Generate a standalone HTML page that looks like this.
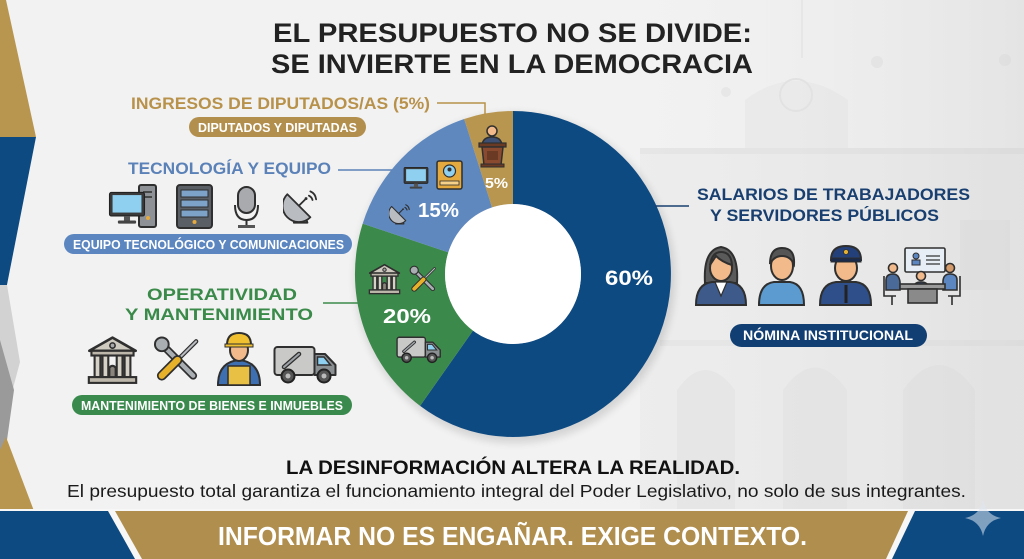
<!DOCTYPE html>
<html><head><meta charset="utf-8"><style>
html,body{margin:0;padding:0;background:#f2f2f2;}
svg{display:block;}
text{font-family:"Liberation Sans",Arial,sans-serif;}
</style></head><body>
<svg width="1024" height="559" viewBox="0 0 1024 559" xmlns="http://www.w3.org/2000/svg">
<defs>
<linearGradient id="bgR" x1="0" y1="0" x2="1" y2="0">
<stop offset="0" stop-color="#f3f3f3" stop-opacity="0"/>
<stop offset="1" stop-color="#d9d9d9" stop-opacity="0.55"/>
</linearGradient>
<filter id="sh" x="-20%" y="-20%" width="140%" height="140%"><feGaussianBlur stdDeviation="4"/></filter>
<symbol id="sat" viewBox="0 0 100 100">
<polygon points="40,66 58,66 68,95 30,95" fill="#7d8186" stroke="#2f2f2f" stroke-width="5" stroke-linejoin="round"/>
<path d="M12,16 A44,44 0 0 0 76,80 Z" fill="#b9bdc2" stroke="#2f2f2f" stroke-width="5" stroke-linejoin="round"/>
<line x1="44" y1="48" x2="64" y2="28" stroke="#2f2f2f" stroke-width="5"/>
<circle cx="64" cy="28" r="4" fill="#2f2f2f"/>
<path d="M72,20 Q80,24 82,32 M76,8 Q90,14 92,30" fill="none" stroke="#2f2f2f" stroke-width="5" stroke-linecap="round"/>
</symbol>
<symbol id="bld" viewBox="0 0 100 95">
<polygon points="6,30 50,5 94,30" fill="#cfcabf" stroke="#2f2f2f" stroke-width="5" stroke-linejoin="round"/>
<circle cx="50" cy="20" r="5" fill="#aaa" stroke="#2f2f2f" stroke-width="3"/>
<rect x="10" y="30" width="80" height="9" fill="#bdb7ab" stroke="#2f2f2f" stroke-width="4"/>
<rect x="16" y="39" width="11" height="41" fill="#d6d1c6" stroke="#2f2f2f" stroke-width="4"/>
<rect x="31" y="39" width="11" height="41" fill="#d6d1c6" stroke="#2f2f2f" stroke-width="4"/>
<rect x="58" y="39" width="11" height="41" fill="#d6d1c6" stroke="#2f2f2f" stroke-width="4"/>
<rect x="73" y="39" width="11" height="41" fill="#d6d1c6" stroke="#2f2f2f" stroke-width="4"/>
<path d="M44,80 V62 Q50,55 56,62 V80" fill="#8a857c" stroke="#2f2f2f" stroke-width="4"/>
<rect x="5" y="80" width="90" height="11" fill="#bdb7ab" stroke="#2f2f2f" stroke-width="4"/>
</symbol>
<symbol id="tools" viewBox="0 0 100 100">
<line x1="22" y1="22" x2="82" y2="82" stroke="#2f2f2f" stroke-width="16" stroke-linecap="round"/>
<line x1="22" y1="22" x2="82" y2="82" stroke="#a9aeb3" stroke-width="9" stroke-linecap="round"/>
<circle cx="18" cy="18" r="14" fill="#a9aeb3" stroke="#2f2f2f" stroke-width="4"/>
<line x1="88" y1="12" x2="50" y2="50" stroke="#2f2f2f" stroke-width="9" stroke-linecap="round"/>
<line x1="88" y1="12" x2="50" y2="50" stroke="#b8bcc0" stroke-width="4" stroke-linecap="round"/>
<line x1="50" y1="50" x2="18" y2="82" stroke="#2f2f2f" stroke-width="20" stroke-linecap="round"/>
<line x1="50" y1="50" x2="18" y2="82" stroke="#e8b12a" stroke-width="13" stroke-linecap="round"/>
</symbol>
<symbol id="van" viewBox="0 0 130 80">
<rect x="3" y="4" width="80" height="56" rx="6" fill="#c9c9c7" stroke="#2f2f2f" stroke-width="4"/>
<path d="M83,18 H104 L125,40 V60 H83 Z" fill="#8a8f92" stroke="#2f2f2f" stroke-width="4" stroke-linejoin="round"/>
<path d="M89,24 H102 L115,40 H89 Z" fill="#8fd0f0" stroke="#2f2f2f" stroke-width="3"/>
<line x1="22" y1="44" x2="52" y2="18" stroke="#2f2f2f" stroke-width="9" stroke-linecap="round"/>
<line x1="22" y1="44" x2="52" y2="18" stroke="#9ea3a8" stroke-width="4" stroke-linecap="round"/>
<circle cx="30" cy="62" r="13" fill="#555" stroke="#222" stroke-width="4"/>
<circle cx="30" cy="62" r="5" fill="#bbb"/>
<circle cx="102" cy="62" r="13" fill="#555" stroke="#222" stroke-width="4"/>
<circle cx="102" cy="62" r="5" fill="#bbb"/>
</symbol>
<symbol id="mon" viewBox="0 0 100 90">
<rect x="4" y="4" width="92" height="62" rx="5" fill="#3a3a3a" stroke="#222" stroke-width="3"/>
<rect x="12" y="11" width="76" height="46" fill="#8fd0f0"/>
<rect x="42" y="66" width="16" height="12" fill="#555"/>
<rect x="26" y="78" width="48" height="8" rx="3" fill="#444"/>
</symbol>
</defs>

<!-- background -->
<rect width="1024" height="559" fill="#f2f2f2"/>
<rect x="560" y="0" width="464" height="520" fill="url(#bgR)"/>
<!-- faint building -->
<g opacity="0.28" fill="#d0d0d0">
<rect x="640" y="150" width="384" height="362" opacity="0.5"/>
<path d="M745,150 V100 Q795,62 848,100 V150 Z" opacity="0.6"/>
<rect x="640" y="148" width="384" height="6" fill="#c8c8c8"/>
<circle cx="877" cy="62" r="6"/>
<circle cx="1005" cy="60" r="6"/>
<circle cx="726" cy="92" r="5"/>
<line x1="802" y1="0" x2="802" y2="58" stroke="#c8c8c8" stroke-width="1.5"/>
<circle cx="796" cy="95" r="16" fill="none" stroke="#c4c4c4" stroke-width="2"/>
<path d="M677,510 V390 Q705,350 735,390 V510 Z" fill="#cdcdcd"/>
<path d="M783,510 V390 Q815,345 847,390 V510 Z" fill="#cdcdcd"/>
<path d="M903,510 V390 Q939,340 975,390 V510 Z" fill="#cdcdcd"/>
<rect x="660" y="340" width="364" height="6" fill="#cacaca"/>
<rect x="960" y="220" width="50" height="70" fill="#cacaca"/>
</g>

<!-- left edge decorations -->
<polygon points="0,0 6,0 36,137 0,137" fill="#b9964f"/>
<polygon points="0,137 36,137 4,300 0,300" fill="#0e4a82"/>
<polygon points="0,285 7,285 20,362 12,392 0,392" fill="#d2d2d2"/>
<polygon points="0,340 14,390 7,440 0,460" fill="#9a9a9a"/>
<polygon points="0,450 6,437 34,511 0,511" fill="#b9964f"/>

<!-- title -->
<text x="273" y="42" font-size="27" font-weight="bold" fill="#222" textLength="479" lengthAdjust="spacingAndGlyphs">EL PRESUPUESTO NO SE DIVIDE:</text>
<text x="271" y="73" font-size="27" font-weight="bold" fill="#222" textLength="482" lengthAdjust="spacingAndGlyphs">SE INVIERTE EN LA DEMOCRACIA</text>

<!-- donut -->
<ellipse cx="515" cy="278" rx="160" ry="165" fill="#000" opacity="0.12" filter="url(#sh)"/>
<path d="M513,111 A158,163 0 1 1 420.1,405.9 L473,330.6 A68,70 0 1 0 513,204 Z" fill="#0e4a82"/>
<path d="M420.1,405.9 A158,163 0 0 1 362.7,223.6 L448.3,252.4 A68,70 0 0 0 473,330.6 Z" fill="#3c8a4b"/>
<path d="M362.7,223.6 A158,163 0 0 1 464.2,119 L492,207.4 A68,70 0 0 0 448.3,252.4 Z" fill="#5f88bf"/>
<path d="M464.2,119 A158,163 0 0 1 513,111 L513,204 A68,70 0 0 0 492,207.4 Z" fill="#b9964f"/>
<ellipse cx="513" cy="274" rx="68" ry="70" fill="#ffffff"/>

<text x="605" y="285" font-size="21" font-weight="bold" fill="#fff" textLength="48" lengthAdjust="spacingAndGlyphs">60%</text>
<text x="485" y="188" font-size="15" font-weight="bold" fill="#fff" textLength="23" lengthAdjust="spacingAndGlyphs">5%</text>
<text x="418" y="217" font-size="20" font-weight="bold" fill="#fff" textLength="41" lengthAdjust="spacingAndGlyphs">15%</text>
<text x="383" y="323" font-size="20" font-weight="bold" fill="#fff" textLength="48" lengthAdjust="spacingAndGlyphs">20%</text>

<!-- donut icons -->
<g>
<circle cx="492" cy="131" r="5" fill="#f2b98a" stroke="#2f2f2f" stroke-width="1.5"/>
<path d="M482,145 Q483,137 492,137 Q501,137 502,145 Z" fill="#3d4f73" stroke="#2f2f2f" stroke-width="1.5"/>
<rect x="479" y="143" width="27" height="4" fill="#6a3a25" stroke="#2f2f2f" stroke-width="1.2"/>
<polygon points="482,147 503,147 501,165 484,165" fill="#8a4a30" stroke="#2f2f2f" stroke-width="1.5"/>
<rect x="487" y="151" width="11" height="9" fill="#6a3a25"/>
<rect x="481" y="164" width="23" height="3" fill="#6a3a25" stroke="#2f2f2f" stroke-width="1"/>
</g>
<use href="#mon" x="403" y="166" width="26" height="24"/>
<g>
<rect x="437" y="161" width="25" height="28" rx="2" fill="#e4a93f" stroke="#2f2f2f" stroke-width="1.5"/>
<circle cx="449.5" cy="171" r="6" fill="#8fd0f0" stroke="#2f2f2f" stroke-width="1.2"/>
<circle cx="449.5" cy="169.5" r="2" fill="#2f2f2f"/>
<rect x="440" y="181" width="19" height="4" fill="#f5d18a" stroke="#2f2f2f" stroke-width="0.8"/>
</g>
<use href="#sat" x="389" y="201" width="22" height="26"/>
<use href="#bld" x="367" y="263" width="35" height="32"/>
<use href="#tools" x="409" y="264" width="29" height="31"/>
<use href="#van" x="396" y="335" width="46" height="30"/>

<!-- gold category -->
<text x="131" y="109" font-size="17" font-weight="bold" fill="#b8924b" textLength="299" lengthAdjust="spacingAndGlyphs">INGRESOS DE DIPUTADOS/AS (5%)</text>
<path d="M437,103 H485 V115" fill="none" stroke="#b8924b" stroke-width="1.5"/>
<rect x="189" y="117" width="177" height="20" rx="10" fill="#b38f4d"/>
<text x="198" y="132" font-size="12.5" font-weight="bold" fill="#fff" textLength="159" lengthAdjust="spacingAndGlyphs">DIPUTADOS Y DIPUTADAS</text>

<!-- tech category -->
<text x="128" y="174" font-size="17" font-weight="bold" fill="#5b82b8" textLength="203" lengthAdjust="spacingAndGlyphs">TECNOLOGÍA Y EQUIPO</text>
<path d="M338,170 H392" stroke="#5b82b8" stroke-width="1.5"/>
<g>
<rect x="139" y="185" width="17" height="42" rx="2" fill="#8e9296" stroke="#2f2f2f" stroke-width="2"/>
<line x1="143" y1="192" x2="152" y2="192" stroke="#2f2f2f" stroke-width="1.5"/>
<line x1="143" y1="197" x2="152" y2="197" stroke="#2f2f2f" stroke-width="1.5"/>
<circle cx="148" cy="218" r="2" fill="#e4a93f"/>
<use href="#mon" x="108" y="189" width="38" height="38"/>
</g>
<g>
<rect x="177" y="185" width="35" height="43" rx="3" fill="#5a5f66" stroke="#2f2f2f" stroke-width="2"/>
<rect x="181" y="190" width="27" height="7" fill="#7ea3c8" stroke="#2f2f2f" stroke-width="1"/>
<rect x="181" y="200" width="27" height="7" fill="#7ea3c8" stroke="#2f2f2f" stroke-width="1"/>
<rect x="181" y="210" width="27" height="7" fill="#7ea3c8" stroke="#2f2f2f" stroke-width="1"/>
<circle cx="194.5" cy="222" r="2" fill="#e4a93f"/>
</g>
<g>
<rect x="238" y="187" width="17" height="26" rx="8.5" fill="#a8aaae" stroke="#2f2f2f" stroke-width="2"/>
<path d="M235,205 Q235,220 246.5,220 Q258,220 258,205" fill="none" stroke="#2f2f2f" stroke-width="2"/>
<line x1="246.5" y1="220" x2="246.5" y2="226" stroke="#2f2f2f" stroke-width="2"/>
<rect x="238" y="225" width="17" height="3" fill="#555"/>
</g>
<use href="#sat" x="283" y="185" width="36" height="43"/>
<rect x="64" y="234" width="288" height="20" rx="10" fill="#5b86c0"/>
<text x="73" y="249" font-size="12.5" font-weight="bold" fill="#fff" textLength="271" lengthAdjust="spacingAndGlyphs">EQUIPO TECNOLÓGICO Y COMUNICACIONES</text>

<!-- green category -->
<text x="147" y="300" font-size="17" font-weight="bold" fill="#3a8a4a" textLength="150" lengthAdjust="spacingAndGlyphs">OPERATIVIDAD</text>
<text x="125" y="320" font-size="17" font-weight="bold" fill="#3a8a4a" textLength="188" lengthAdjust="spacingAndGlyphs">Y MANTENIMIENTO</text>
<path d="M323,303 H358" stroke="#3a8a4a" stroke-width="1.5"/>
<use href="#bld" x="86" y="335" width="53" height="50"/>
<use href="#tools" x="153" y="335" width="49" height="50"/>
<g>
<path d="M218,385 Q218,362 239,360 Q260,362 260,385 Z" fill="#3e6fb0" stroke="#2f2f2f" stroke-width="2"/>
<rect x="228" y="366" width="22" height="19" fill="#e8c044" stroke="#2f2f2f" stroke-width="1.5"/>
<ellipse cx="239" cy="350" rx="9" ry="11" fill="#f2b98a" stroke="#2f2f2f" stroke-width="2"/>
<path d="M227,345 Q227,333 239,333 Q251,333 251,345 Z" fill="#f0c030" stroke="#2f2f2f" stroke-width="2"/>
<rect x="225" y="344" width="28" height="3" fill="#f0c030" stroke="#2f2f2f" stroke-width="1"/>
</g>
<use href="#van" x="273" y="345" width="65" height="40"/>
<rect x="72" y="395" width="280" height="20" rx="10" fill="#3a8a4e"/>
<text x="81" y="410" font-size="12.5" font-weight="bold" fill="#fff" textLength="262" lengthAdjust="spacingAndGlyphs">MANTENIMIENTO DE BIENES E INMUEBLES</text>

<!-- navy category -->
<path d="M655,206 H689" stroke="#183f70" stroke-width="1.5"/>
<text x="697" y="200" font-size="17" font-weight="bold" fill="#183f70" textLength="273" lengthAdjust="spacingAndGlyphs">SALARIOS DE TRABAJADORES</text>
<text x="710" y="221" font-size="17" font-weight="bold" fill="#183f70" textLength="229" lengthAdjust="spacingAndGlyphs">Y SERVIDORES PÚBLICOS</text>
<!-- woman -->
<g stroke="#2f2f2f" stroke-width="2">
<path d="M705,283 Q703,250 721,247 Q739,250 737,283 Z" fill="#5a5a5a"/>
<path d="M696,305 Q696,284 712,282 L730,282 Q746,284 746,305 Z" fill="#3d5a8a"/>
<path d="M715,282 L721,296 L727,282 Z" fill="#fff" stroke-width="1.2"/>
<ellipse cx="721" cy="268" rx="11" ry="13" fill="#f2b98a"/>
<path d="M710,265 Q712,252 721,252 Q731,252 732,265 Q722,262 716,256 Z" fill="#5a5a5a"/>
</g>
<!-- man -->
<g stroke="#2f2f2f" stroke-width="2">
<path d="M759,305 Q759,284 774,282 L790,282 Q804,284 804,305 Z" fill="#5b9bd0"/>
<ellipse cx="782" cy="266" rx="11" ry="14" fill="#f2b98a"/>
<path d="M770,264 Q770,248 782,248 Q795,248 794,264 Q790,256 782,256 Q774,256 770,264 Z" fill="#555"/>
</g>
<!-- police -->
<g stroke="#2f2f2f" stroke-width="2">
<path d="M820,305 Q820,284 836,282 L856,282 Q871,284 871,305 Z" fill="#2e4f8a"/>
<line x1="846" y1="285" x2="846" y2="303" stroke="#222" stroke-width="3"/>
<ellipse cx="846" cy="268" rx="11" ry="13" fill="#f2b98a"/>
<path d="M831,260 Q831,246 846,246 Q861,246 861,260 Z" fill="#23407a"/>
<rect x="831" y="258" width="30" height="4" fill="#1a2a4a" stroke-width="1"/>
<circle cx="846" cy="252" r="2.5" fill="#e4b030" stroke-width="0.8"/>
</g>
<!-- meeting -->
<g stroke="#2f2f2f" stroke-width="1.6">
<rect x="905" y="248" width="40" height="24" rx="1.5" fill="#e8eef5"/>
<circle cx="916" cy="256" r="3" fill="#5b86c0" stroke-width="1"/>
<rect x="912" y="260" width="8" height="5" fill="#5b86c0" stroke-width="1"/>
<line x1="926" y1="256" x2="940" y2="256" stroke-width="1.2"/>
<line x1="926" y1="260" x2="940" y2="260" stroke-width="1.2"/>
<line x1="926" y1="264" x2="940" y2="264" stroke-width="1.2"/>
<circle cx="893" cy="268" r="4.5" fill="#f2b98a"/>
<path d="M886,290 V280 Q886,274 893,274 Q899,274 900,282 V290 Z" fill="#4a6a9a"/>
<circle cx="921" cy="276" r="4.5" fill="#f2b98a"/>
<path d="M913,290 Q913,282 921,282 Q929,282 929,290 Z" fill="#2e4f8a"/>
<circle cx="950" cy="268" r="4.5" fill="#d49a6a"/>
<path d="M943,290 V282 Q943,274 950,274 Q957,274 957,280 V290 Z" fill="#5b86c0"/>
<rect x="900" y="284" width="45" height="5" fill="#9a9a9a"/>
<rect x="908" y="289" width="29" height="14" fill="#8a8a8a"/>
<path d="M884,276 V296 H896 M892,296 V305" fill="none"/>
<path d="M960,276 V296 H948 M952,296 V305" fill="none"/>
</g>
<rect x="730" y="324" width="197" height="23" rx="11.5" fill="#123f73"/>
<text x="743" y="340" font-size="13.5" font-weight="bold" fill="#fff" textLength="170" lengthAdjust="spacingAndGlyphs">NÓMINA INSTITUCIONAL</text>

<!-- bottom statement -->
<text x="286" y="474" font-size="19" font-weight="bold" fill="#111" textLength="454" lengthAdjust="spacingAndGlyphs">LA DESINFORMACIÓN ALTERA LA REALIDAD.</text>
<text x="67" y="497" font-size="17.5" fill="#1a1a1a" textLength="899" lengthAdjust="spacingAndGlyphs">El presupuesto total garantiza el funcionamiento integral del Poder Legislativo, no solo de sus integrantes.</text>

<!-- bottom banner -->
<rect x="0" y="509" width="1024" height="50" fill="#f7f7f7"/>
<polygon points="0,511 108,511 135,559 0,559" fill="#0e4a82"/>
<polygon points="115,511 908,511 886,559 142,559" fill="#b08e4e"/>
<polygon points="915,511 1024,511 1024,559 892,559" fill="#0e4a82"/>
<path d="M983,500 Q986,515 1001,518 Q986,521 983,536 Q980,521 965,518 Q980,515 983,500 Z" fill="#dfe8f2" opacity="0.55"/>
<text x="218" y="545" font-size="26" font-weight="bold" fill="#fff" textLength="589" lengthAdjust="spacingAndGlyphs">INFORMAR NO ES ENGAÑAR. EXIGE CONTEXTO.</text>
</svg>
</body></html>
